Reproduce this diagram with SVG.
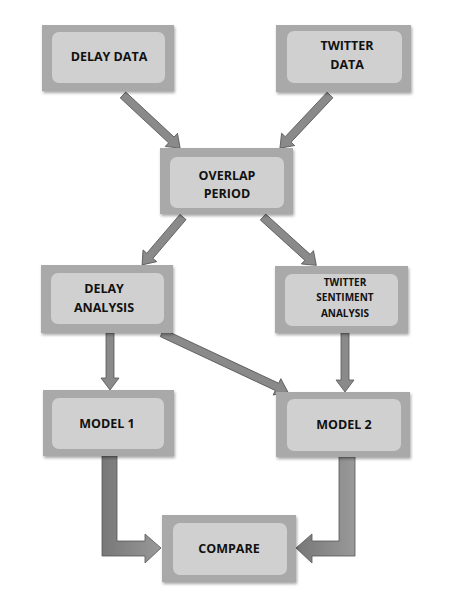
<svg xmlns="http://www.w3.org/2000/svg" width="450" height="603" viewBox="0 0 450 603">
<style>
.outer{fill:#a9a9a9;filter:url(#sh)}
.inner{fill:#d0d0d0}
.t{font-family:"Open Sans","Liberation Sans",sans-serif;font-weight:bold;font-size:12.5px;fill:#111;text-anchor:middle}
.ts{font-size:10px}
.arr{fill:#8a8a8a;stroke:#555;stroke-width:0.8}
</style>
<defs>
<filter id="sh" x="-10%" y="-10%" width="125%" height="130%">
<feDropShadow dx="1" dy="2" stdDeviation="1.5" flood-color="#000" flood-opacity="0.35"/>
</filter>
<linearGradient id="ag" x1="0" y1="0" x2="1" y2="0">
<stop offset="0" stop-color="#777"/><stop offset="1" stop-color="#999"/>
</linearGradient>
</defs>
<rect width="450" height="603" fill="#fff"/>
<g id="connectors">
<path class="arr" transform="translate(123,95) rotate(42.9)" d="M0,-4 L66,-4 L66,-9 L78,0 L66,9 L66,4 L0,4 Z"/>
<path class="arr" transform="translate(330,95) rotate(133.3)" d="M0,-4 L61,-4 L61,-9 L73,0 L61,9 L61,4 L0,4 Z"/>
<path class="arr" transform="translate(183,217) rotate(130.5)" d="M0,-4 L51,-4 L51,-9 L63,0 L51,9 L51,4 L0,4 Z"/>
<path class="arr" transform="translate(263,217) rotate(42.2)" d="M0,-4 L60,-4 L60,-9 L72,0 L60,9 L60,4 L0,4 Z"/>
<path class="arr" transform="translate(110,333) rotate(90)" d="M0,-4 L45,-4 L45,-9 L57,0 L45,9 L45,4 L0,4 Z"/>
<path class="arr" transform="translate(162,333) rotate(25.1)" d="M0,-4 L127,-4 L127,-9 L139,0 L127,9 L127,4 L0,4 Z"/>
<path class="arr" transform="translate(345,333) rotate(90)" d="M0,-4 L47,-4 L47,-9 L59,0 L47,9 L47,4 L0,4 Z"/>
<path class="arr" fill="url(#ag)" style="fill:url(#ag)" d="M102,456 L117,456 L117,541 L145,541 L145,534 L161,548 L145,563 L145,556 L102,556 Z"/>
<path class="arr" style="fill:url(#ag)" d="M355,457 L339,457 L339,541 L312,541 L312,534 L296,548 L312,563 L312,556 L355,556 Z"/>
</g>
<g id="delay-data">
<rect class="outer" x="42" y="25" width="132" height="66"/>
<rect class="inner" x="52" y="32" width="113" height="51" rx="7"/>
<text class="t" x="109" y="61">DELAY DATA</text>
</g>
<g id="twitter-data">
<rect class="outer" x="276" y="25" width="135" height="67"/>
<rect class="inner" x="287" y="31" width="115" height="52" rx="7"/>
<text class="t" x="347" y="50">TWITTER</text>
<text class="t" x="347" y="69">DATA</text>
</g>
<g id="overlap-period">
<rect class="outer" x="160" y="148" width="133" height="66"/>
<rect class="inner" x="170" y="157" width="114" height="51" rx="7"/>
<text class="t" x="227" y="180">OVERLAP</text>
<text class="t" x="227" y="198">PERIOD</text>
</g>
<g id="delay-analysis">
<rect class="outer" x="41" y="265" width="132" height="68"/>
<rect class="inner" x="51" y="273" width="113" height="51" rx="7"/>
<text class="t" x="104" y="293">DELAY</text>
<text class="t" x="104" y="312">ANALYSIS</text>
</g>
<g id="twitter-sentiment-analysis">
<rect class="outer" x="275" y="266" width="133" height="67"/>
<rect class="inner" x="285" y="274" width="113" height="52" rx="7"/>
<text class="t ts" x="345" y="286">TWITTER</text>
<text class="t ts" x="345" y="301">SENTIMENT</text>
<text class="t ts" x="345" y="317">ANALYSIS</text>
</g>
<g id="model-1">
<rect class="outer" x="43" y="390" width="131" height="66"/>
<rect class="inner" x="52" y="398" width="112" height="51" rx="7"/>
<text class="t" x="107" y="428">MODEL 1</text>
</g>
<g id="model-2">
<rect class="outer" x="276" y="392" width="134" height="65"/>
<rect class="inner" x="287" y="399" width="114" height="52" rx="7"/>
<text class="t" x="344" y="429">MODEL 2</text>
</g>
<g id="compare">
<rect class="outer" x="162" y="515" width="134" height="67"/>
<rect class="inner" x="173" y="523" width="114" height="52" rx="7"/>
<text class="t" x="229" y="553">COMPARE</text>
</g>
</svg>
